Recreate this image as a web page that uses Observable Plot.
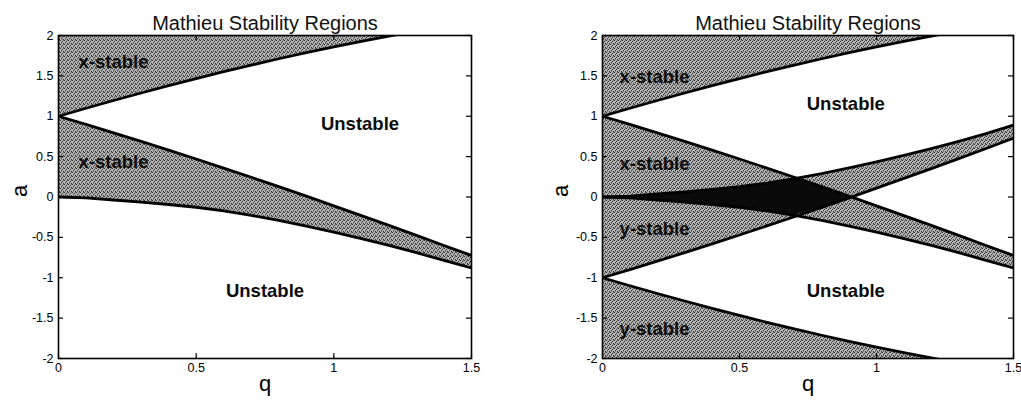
<!DOCTYPE html>
<html><head><meta charset="utf-8">
<script src="https://cdn.jsdelivr.net/npm/d3@7"></script>
<script src="https://cdn.jsdelivr.net/npm/@observablehq/plot@0.6"></script>
<style>
body{margin:0;background:#fff;}
#wrap{position:relative;width:1021px;height:406px;overflow:hidden;font-family:"Liberation Sans",Arial,sans-serif;}
#wrap > div{position:absolute;top:0;}
#wrap svg g[aria-label$="tick label"]{font-size:12.5px !important;}
</style></head><body>
<svg width="0" height="0" style="position:absolute">
<defs>
<pattern id="stipple" width="4" height="4" patternUnits="userSpaceOnUse">
<rect width="4" height="4" fill="#b4b4b4"/>
<rect x="0" y="0" width="1" height="1" fill="#333"/>
<rect x="2" y="1" width="1" height="1" fill="#333"/>
<rect x="1" y="2" width="1" height="1" fill="#4a4a4a"/>
<rect x="3" y="3" width="1" height="1" fill="#333"/>
<rect x="3" y="0" width="1" height="1" fill="#666"/>
<rect x="1" y="3" width="1" height="1" fill="#777"/>
</pattern>
</defs></svg>
<div id="wrap"></div>
<script>
// ---- data ----
const q   = [0, 0.1, 0.2, 0.3, 0.4, 0.5, 0.6, 0.7, 0.8, 0.9, 1.0, 1.1, 1.2, 1.3, 1.4, 1.5];
// x-direction boundary curves
const a0  = [0, -0.012, -0.037, -0.063, -0.093, -0.127, -0.172, -0.228, -0.29, -0.36, -0.435, -0.515, -0.6, -0.69, -0.785, -0.88];
const b1  = [1, 0.899, 0.795, 0.689, 0.581, 0.471, 0.358, 0.244, 0.128, 0.01, -0.11, -0.23, -0.352, -0.475, -0.6, -0.725];
const a1  = [1, 1.099, 1.195, 1.288, 1.379, 1.467, 1.552, 1.633, 1.712, 1.787, 1.859, 1.928, 1.993, 2.055, 2.115, 2.17];
// y-direction boundary curves (right panel)
const ya0 = [0, 0.012, 0.037, 0.063, 0.093, 0.127, 0.172, 0.228, 0.29, 0.36, 0.435, 0.515, 0.6, 0.69, 0.785, 0.89];
const yb1 = [-1, -0.899, -0.795, -0.689, -0.581, -0.471, -0.358, -0.244, -0.128, -0.01, 0.11, 0.23, 0.352, 0.475, 0.6, 0.73];
const ya1 = [-1, -1.099, -1.195, -1.288, -1.379, -1.467, -1.552, -1.633, -1.712, -1.787, -1.859, -1.928, -1.993, -2.055, -2.115, -2.17];

const xTicks = [0, 0.5, 1, 1.5];
const xTickLabels = ["0", "0.5", "1", "1.5"];
const yTicks = [-2, -1.5, -1, -0.5, 0, 0.5, 1, 1.5, 2];
const yTickLabels = ["-2", "-1.5", "-1", "-0.5", "0", "0.5", "1", "1.5", "2"];

const title = "Mathieu Stability Regions";
const xLabel = "q";
const yLabel = "a";

const leftLabelText = ["x-stable", "x-stable", "Unstable", "Unstable"];
const leftLabelQ    = [0.2, 0.2, 1.095, 0.75];
const leftLabelA    = [1.67, 0.43, 0.9, -1.17];

const rightLabelText = ["x-stable", "Unstable", "x-stable", "y-stable", "Unstable", "y-stable"];
const rightLabelQ    = [0.19, 0.888, 0.19, 0.19, 0.888, 0.19];
const rightLabelA    = [1.48, 1.145, 0.41, -0.4, -1.16, -1.63];

// ---- build tables ----
const rows = q.map((v, i) => ({q: v, a0: a0[i], b1: b1[i], a1: a1[i], ya0: ya0[i], yb1: yb1[i], ya1: ya1[i]}));
const both = rows.map(r => ({q: r.q, lo: Math.max(r.a0, r.yb1), hi: Math.min(r.b1, r.ya0)})).filter(r => r.lo <= r.hi);
const xFmt = new Map(xTicks.map((d, i) => [d, xTickLabels[i]]));
const yFmt = new Map(yTicks.map((d, i) => [d, yTickLabels[i]]));
const mkLabels = (t, qs, as) => t.map((s, i) => ({t: s, q: qs[i], a: as[i]}));

const H = 406, MT = 35, MB = 48;
const FILL = "url(#stipple)";

function panel({width, marginLeft, marginRight, right, labels}) {
  const pw = width - marginLeft - marginRight, ph = H - MT - MB;
  const marks = [];
  // shaded regions
  marks.push(Plot.areaY(rows, {x: "q", y1: "a1", y2: 2, fill: FILL, clip: true}));
  marks.push(Plot.areaY(rows, {x: "q", y1: "a0", y2: "b1", fill: FILL, clip: true}));
  if (right) {
    marks.push(Plot.areaY(rows, {x: "q", y1: "yb1", y2: "ya0", fill: FILL, clip: true}));
    marks.push(Plot.areaY(rows, {x: "q", y1: "ya1", y2: -2, fill: FILL, clip: true}));
    marks.push(Plot.areaY(both, {x: "q", y1: "lo", y2: "hi", fill: "#0a0a0a", clip: true}));
  }
  // boundary curves
  const curves = right ? ["a1", "b1", "a0", "ya1", "yb1", "ya0"] : ["a1", "b1", "a0"];
  for (const c of curves) marks.push(Plot.line(rows, {x: "q", y: c, stroke: "#000", strokeWidth: 2.8, clip: true}));
  // frame & inward ticks
  marks.push(Plot.frame({stroke: "#000", strokeWidth: 1.6}));
  marks.push(Plot.tickY(yTicks, {y: d => d, insetRight: pw - 5, stroke: "#000", strokeWidth: 1.2}));
  marks.push(Plot.tickY(yTicks, {y: d => d, insetLeft: pw - 5, stroke: "#000", strokeWidth: 1.2}));
  marks.push(Plot.tickX(xTicks, {x: d => d, insetTop: ph - 5, stroke: "#000", strokeWidth: 1.2}));
  marks.push(Plot.tickX(xTicks, {x: d => d, insetBottom: ph - 5, stroke: "#000", strokeWidth: 1.2}));
  // axes labels
  marks.push(Plot.axisX(xTicks, {tickSize: 0, tickPadding: 5, tickFormat: d => xFmt.get(d), label: null, fontSize: 12.5}));
  marks.push(Plot.axisY(yTicks, {anchor: "left", tickSize: 0, tickPadding: 5, tickFormat: d => yFmt.get(d), label: null, fontSize: 12.5}));
  // region labels
  marks.push(Plot.text(labels, {x: "q", y: "a", text: "t", fontWeight: "bold", fontSize: 18.5, fill: "#0d0d0d"}));
  // title, axis names
  marks.push(Plot.text([title], {text: d => d, frameAnchor: "top", dy: -20, fontSize: 20, fill: "#111", style: "letter-spacing:1px"}));
  marks.push(Plot.text([xLabel], {text: d => d, frameAnchor: "bottom", dy: 32, fontSize: 22, fill: "#000"}));
  marks.push(Plot.text([yLabel], {text: d => d, frameAnchor: "left", dx: right ? -42 : -39, rotate: -90, fontSize: 22, fill: "#000"}));
  return Plot.plot({
    width, height: H, marginTop: MT, marginBottom: MB, marginLeft, marginRight,
    x: {domain: [0, 1.5], axis: null},
    y: {domain: [-2, 2], axis: null},
    style: {fontFamily: "'Liberation Sans', Arial, sans-serif", fontSize: "12px", color: "#000", background: "white", overflow: "visible"},
    marks
  });
}

const wrap = document.getElementById("wrap");
const d1 = document.createElement("div"); d1.style.left = "0px";
d1.appendChild(panel({width: 510, marginLeft: 58, marginRight: 39, right: false,
  labels: mkLabels(leftLabelText, leftLabelQ, leftLabelA)}));
const d2 = document.createElement("div"); d2.style.left = "510px";
d2.appendChild(panel({width: 511, marginLeft: 92, marginRight: 8, right: true,
  labels: mkLabels(rightLabelText, rightLabelQ, rightLabelA)}));
wrap.appendChild(d1); wrap.appendChild(d2);
</script>
</body></html>
